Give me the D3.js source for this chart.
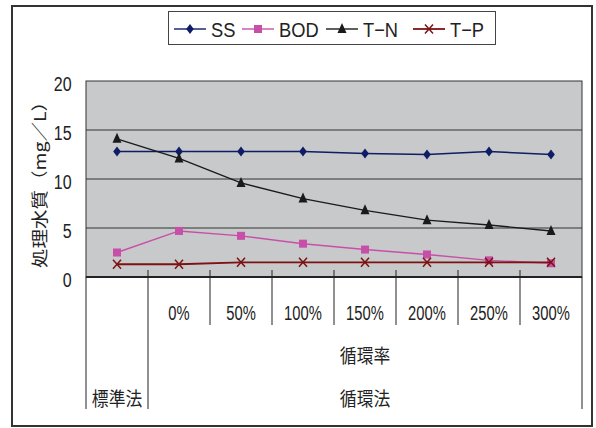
<!DOCTYPE html>
<html>
<head>
<meta charset="utf-8">
<script src="https://cdn.jsdelivr.net/npm/d3@7/dist/d3.min.js"></script>
<style>
  html, body { margin: 0; padding: 0; background: #fff; }
  svg { display: block; }
</style>
</head>
<body>
<svg id="chart" width="596" height="428"></svg>
<script>
// Categories along the x axis (first one is the standard method)
const categories = ["標準法", "0%", "50%", "100%", "150%", "200%", "250%", "300%"];
// First-level tick labels (the standard method has none on this row)
const tickLabels = ["", "0%", "50%", "100%", "150%", "200%", "250%", "300%"];
// Group labels below the ticks
const rateLabel = "循環率";
const methodLabels = ["標準法", "循環法"];
const methodSpans = [1, 7];

// Treated water quality (mg/L)
const ssValues  = [12.8, 12.8, 12.8, 12.8, 12.6, 12.5, 12.8, 12.5];
const bodValues = [2.5, 4.7, 4.2, 3.4, 2.8, 2.3, 1.7, 1.4];
const tnValues  = [14.1, 12.1, 9.6, 8.0, 6.8, 5.8, 5.3, 4.7];
const tpValues  = [1.3, 1.3, 1.5, 1.5, 1.5, 1.5, 1.5, 1.5];

const seriesNames = ["SS", "BOD", "T\u2212N", "T\u2212P"];
const yTicks = [0, 5, 10, 15, 20];
const yTitle = "処理水質（mg／L）";

const series = [
  { name: seriesNames[0], values: ssValues,  color: "#0f1c66", marker: "diamond", width: 1.4 },
  { name: seriesNames[1], values: bodValues, color: "#c84fa8", marker: "square",  width: 1.4 },
  { name: seriesNames[2], values: tnValues,  color: "#1a1a1a", marker: "triangle", width: 1.4 },
  { name: seriesNames[3], values: tpValues,  color: "#7d1212", marker: "cross",   width: 1.8 }
];

const svg = d3.select("#chart");
const latin = "'Liberation Sans', Arial, sans-serif";
const cjk = "'Noto Sans CJK JP', 'Noto Sans CJK SC', sans-serif";

// Outer frame
svg.append("rect")
  .attr("x", 12).attr("y", 6).attr("width", 580).attr("height", 420)
  .attr("fill", "#fff").attr("stroke", "#333").attr("stroke-width", 2);

const plot = { left: 86, right: 582, top: 81, bottom: 277 };

const x = d3.scaleBand().domain(categories).range([plot.left, plot.right]).padding(0);
const y = d3.scaleLinear().domain([0, 20]).range([plot.bottom, plot.top]);
const cx = c => x(c) + x.bandwidth() / 2;

// Plot background
svg.append("rect")
  .attr("x", plot.left).attr("y", plot.top)
  .attr("width", plot.right - plot.left).attr("height", plot.bottom - plot.top)
  .attr("fill", "#c8c9cb").attr("stroke", "#333").attr("stroke-width", 1);

// Horizontal gridlines
svg.append("g").selectAll("line").data(yTicks.filter(t => t > 0 && t < 20)).join("line")
  .attr("x1", plot.left).attr("x2", plot.right)
  .attr("y1", d => y(d)).attr("y2", d => y(d))
  .attr("stroke", "#333").attr("stroke-width", 1);

// Y axis labels
const yAxis = d3.axisLeft(y).tickValues(yTicks).tickSize(0).tickPadding(18);
const yg = svg.append("g").attr("transform", `translate(${plot.left},0)`).call(yAxis);
yg.select(".domain").remove();
yg.selectAll("text")
  .attr("font-family", latin).attr("font-size", 20).attr("fill", "#222")
  .attr("dy", "0.45em")
  .attr("transform", "scale(0.8,1)");

// Y axis title (rotated)
svg.append("text")
  .attr("transform", "translate(39,180) rotate(-90) scale(1,0.85)")
  .attr("text-anchor", "middle").attr("dominant-baseline", "central")
  .attr("font-family", cjk).attr("font-size", 19.5).attr("fill", "#222")
  .text(yTitle);

// Category boundary lines below the plot
const bw = x.bandwidth();
const boundaries = d3.range(categories.length + 1).map(i => plot.left + i * bw);
const groupEdge = methodSpans[0];
svg.append("g").selectAll("line").data(boundaries).join("line")
  .attr("x1", d => d).attr("x2", d => d)
  .attr("y1", (d, i) => (i === 0 || i === categories.length) ? plot.bottom : plot.bottom - 7)
  .attr("y2", (d, i) => (i === 0 || i === groupEdge || i === categories.length) ? 409 : 325)
  .attr("stroke", "#222").attr("stroke-width", 1);

// Bottom axis line
svg.append("line")
  .attr("x1", plot.left).attr("x2", plot.right)
  .attr("y1", plot.bottom).attr("y2", plot.bottom)
  .attr("stroke", "#222").attr("stroke-width", 2);

// First-level tick labels
svg.append("g").selectAll("text").data(categories).join("text")
  .attr("transform", d => `translate(${cx(d)},320) scale(0.72,1)`)
  .attr("text-anchor", "middle")
  .attr("font-family", latin).attr("font-size", 20.5).attr("fill", "#222")
  .text((d, i) => tickLabels[i]);

// Group labels
const rateStart = methodSpans[0];
const rateCenter = (x(categories[rateStart]) + plot.right) / 2;
svg.append("text")
  .attr("transform", `translate(${rateCenter},354) scale(0.86,1)`)
  .attr("text-anchor", "middle").attr("dominant-baseline", "central")
  .attr("font-family", cjk).attr("font-size", 19.5).attr("fill", "#222")
  .text(rateLabel);

let startIdx = 0;
methodLabels.forEach((lab, k) => {
  const a = x(categories[startIdx]);
  const b = a + methodSpans[k] * bw;
  svg.append("text")
    .attr("transform", `translate(${(a + b) / 2},397) scale(0.86,1)`)
    .attr("text-anchor", "middle").attr("dominant-baseline", "central")
    .attr("font-family", cjk).attr("font-size", 19.5).attr("fill", "#222")
    .text(lab);
  startIdx += methodSpans[k];
});

// Marker drawing
function drawMarker(g, type, px, py, color) {
  if (type === "diamond") {
    g.append("path").attr("d", `M${px},${py - 5}L${px + 3.8},${py}L${px},${py + 5}L${px - 3.8},${py}Z`)
      .attr("fill", color);
  } else if (type === "square") {
    g.append("rect").attr("x", px - 4).attr("y", py - 4).attr("width", 8).attr("height", 8)
      .attr("fill", color);
  } else if (type === "triangle") {
    g.append("path").attr("d", `M${px},${py - 6}L${px + 4.5},${py + 4}L${px - 4.5},${py + 4}Z`)
      .attr("fill", color);
  } else if (type === "cross") {
    g.append("path").attr("d", `M${px - 4},${py - 4.5}L${px + 4},${py + 4.5}M${px + 4},${py - 4.5}L${px - 4},${py + 4.5}`)
      .attr("stroke", color).attr("stroke-width", 1.5).attr("fill", "none");
  }
}

// Series lines and markers
const line = d3.line().x(d => cx(d.c)).y(d => y(d.v));
series.forEach(s => {
  const pts = s.values.map((v, i) => ({ c: categories[i], v }));
  const g = svg.append("g");
  g.append("path").datum(pts).attr("d", line)
    .attr("fill", "none").attr("stroke", s.color).attr("stroke-width", s.width);
  pts.forEach(p => drawMarker(g, s.marker, cx(p.c), y(p.v), s.color));
});

// Legend
svg.append("rect")
  .attr("x", 168.5).attr("y", 11.5).attr("width", 327).attr("height", 33)
  .attr("fill", "#fff").attr("stroke", "#444").attr("stroke-width", 1);
const legendStarts = [174, 242, 326, 413];
const legendLineLen = 32;
series.forEach((s, i) => {
  const g = svg.append("g");
  const x0 = legendStarts[i];
  g.append("line").attr("x1", x0).attr("x2", x0 + legendLineLen)
    .attr("y1", 29).attr("y2", 29)
    .attr("stroke", s.color).attr("stroke-width", s.width);
  drawMarker(g, s.marker, x0 + legendLineLen / 2, 29, s.color);
  g.append("text")
    .attr("transform", `translate(${x0 + legendLineLen + 5},37) scale(0.87,1)`)
    .attr("font-family", latin).attr("font-size", 21).attr("fill", "#222")
    .text(s.name);
});
</script>
</body>
</html>
